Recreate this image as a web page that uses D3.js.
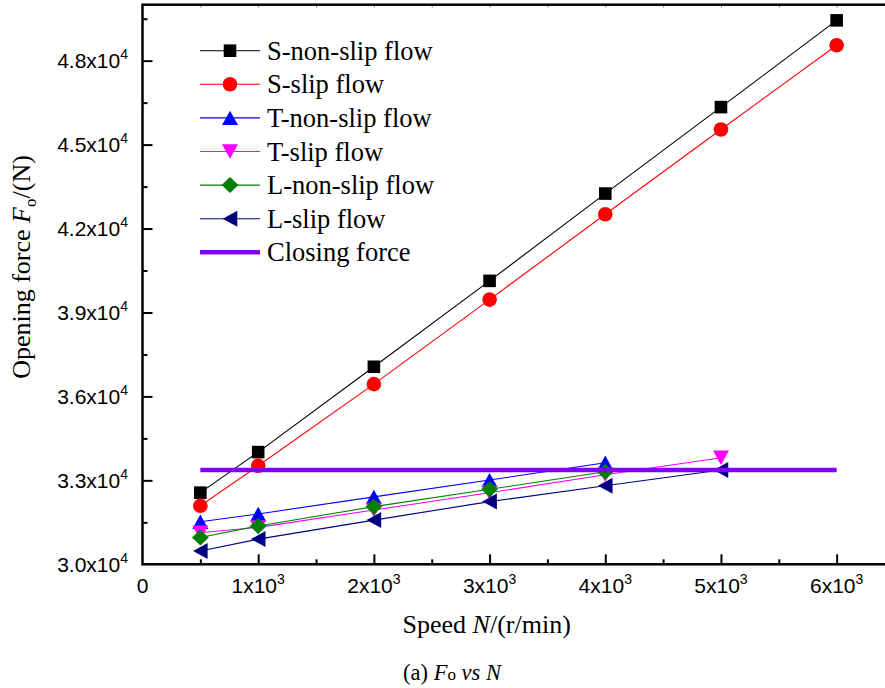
<!DOCTYPE html>
<html>
<head>
<meta charset="utf-8">
<script src="https://cdn.jsdelivr.net/npm/d3@7"></script>
<style>
    body { margin: 0; background: #fff; }
    svg { display: block; }
</style>
</head>
<body>
<svg id="chart"></svg>
<script>
// speeds N (r/min)
const speeds = [500, 1000, 2000, 3000, 4000, 5000, 6000];

// opening force F_o (N)
const sNonSlip = [32560, 34010, 37060, 40130, 43250, 46340, 49440];
const sSlip    = [32090, 33520, 36440, 39460, 42510, 45540, 48550];
const tNonSlip = [31520, 31800, 32410, 33010, 33630];
const tSlip    = [31130, 31320, 31940, 32560, 33200, 33810];
const lNonSlip = [30960, 31370, 32060, 32680, 33310];
const lSlip    = [30475, 30900, 31580, 32240, 32810, 33370];
const closingForce = 33370;
const closingSpan = [500, 6000];

const seriesNames = ['S-non-slip flow', 'S-slip flow', 'T-non-slip flow', 'T-slip flow', 'L-non-slip flow', 'L-slip flow'];
const closingName = 'Closing force';

const xMajor = [0, 1000, 2000, 3000, 4000, 5000, 6000];
const xMinor = [500, 1500, 2500, 3500, 4500, 5500, 6500];
const yMajor = [30000, 33000, 36000, 39000, 42000, 45000, 48000];
const yMinor = [31500, 34500, 37500, 40500, 43500, 46500, 49500];

const styles = [
    { color: '#000000', shape: 'square' },
    { color: '#ff0000', shape: 'circle' },
    { color: '#0000ff', shape: 'up' },
    { color: '#ff00ff', shape: 'down' },
    { color: '#008000', shape: 'diamond' },
    { color: '#000080', shape: 'left' }
];
const closingColor = '#8000ff';

const SERIF = '"Liberation Serif", "Times New Roman", serif';
const SANS = '"Liberation Sans", Arial, sans-serif';

function markerPath(shape) {
    switch (shape) {
        case 'square': return d3.symbol().type(d3.symbolSquare).size(12.6 * 12.6)();
        case 'circle': return d3.symbol().type(d3.symbolCircle).size(Math.PI * 7.3 * 7.3)();
        case 'up': return 'M0,-7.2L8,7.2L-8,7.2Z';
        case 'down': return 'M0,7.2L8,-7.2L-8,-7.2Z';
        case 'diamond': return 'M0,-8L8.4,0L0,8L-8.4,0Z';
        case 'left': return 'M-7.3,0L7.3,-8L7.3,8Z';
    }
}

class ForceChart {

    constructor(config, data) {
        this.config = {
            parent: config.parent,
            width: config.width || 885,
            height: config.height || 688,
            margin: config.margin || {top: 4.7, left: 142.5}
        };
        this.data = data;
        this.init();
    }

    init() {
        let self = this;

        self.svg = d3.select(self.config.parent)
            .attr('width', self.config.width)
            .attr('height', self.config.height);

        self.chart = self.svg.append('g')
            .attr('transform', `translate(${self.config.margin.left}, ${self.config.margin.top})`);

        self.inner_width = 752;
        self.inner_height = 559.6;

        self.xscale = d3.scaleLinear()
            .domain([0, 6500])
            .range([0, self.inner_width]);

        self.yscale = d3.scaleLinear()
            .domain([30000, 50000])
            .range([self.inner_height, 0]);
    }

    update() {
        let self = this;

        self.line = d3.line()
            .x(d => self.xscale(d[0]))
            .y(d => self.yscale(d[1]));

        self.render();
    }

    drawAxes() {
        let self = this;
        const axisStyle = g => {
            g.select('.domain').remove();
            g.selectAll('.tick line').attr('stroke', '#000').attr('stroke-width', 2);
            g.selectAll('.tick text').remove();
        };

        // bottom
        self.chart.append('g')
            .attr('transform', `translate(0, ${self.inner_height})`)
            .call(d3.axisBottom(self.xscale).tickValues(xMajor.slice(1)).tickSizeInner(-10).tickSizeOuter(0))
            .call(axisStyle);
        self.chart.append('g')
            .attr('transform', `translate(0, ${self.inner_height})`)
            .call(d3.axisBottom(self.xscale).tickValues(xMinor).tickSizeInner(-5).tickSizeOuter(0))
            .call(axisStyle);

        // top (short ticks)
        self.chart.append('g')
            .call(d3.axisTop(self.xscale).tickValues(xMajor.slice(1).concat(xMinor)).tickSizeInner(-3).tickSizeOuter(0))
            .call(axisStyle)
            .selectAll('.tick line').attr('stroke', '#888').attr('stroke-width', 1);

        // left
        self.chart.append('g')
            .call(d3.axisLeft(self.yscale).tickValues(yMajor.slice(1)).tickSizeInner(-10).tickSizeOuter(0))
            .call(axisStyle);
        self.chart.append('g')
            .call(d3.axisLeft(self.yscale).tickValues(yMinor).tickSizeInner(-5).tickSizeOuter(0))
            .call(axisStyle);

        // frame
        self.chart.append('rect')
            .attr('x', 0).attr('y', 0)
            .attr('width', self.inner_width)
            .attr('height', self.inner_height)
            .attr('fill', 'none')
            .attr('stroke', '#000')
            .attr('stroke-width', 2.5);

        // x tick labels
        const xl = self.chart.append('g')
            .attr('font-family', SANS)
            .selectAll('text')
            .data(xMajor)
            .join('text')
            .attr('x', d => self.xscale(d))
            .attr('y', self.inner_height + 29)
            .attr('text-anchor', 'middle')
            .attr('font-size', 21);
        xl.each(function(d) {
            const t = d3.select(this);
            if (d === 0) { t.text('0'); return; }
            t.append('tspan').text(`${d / 1000}x10`);
            t.append('tspan').attr('font-size', 14).attr('dy', -9).text('3');
        });

        // y tick labels
        const yl = self.chart.append('g')
            .attr('font-family', SANS)
            .selectAll('text')
            .data(yMajor)
            .join('text')
            .attr('x', -14.5)
            .attr('y', d => self.yscale(d) + 7.5)
            .attr('text-anchor', 'end')
            .attr('font-size', 21);
        yl.each(function(d) {
            const t = d3.select(this);
            t.append('tspan').text(`${(d / 10000).toFixed(1)}x10`);
            t.append('tspan').attr('font-size', 14).attr('dy', -9).text('4');
        });
    }

    render() {
        let self = this;

        self.drawAxes();

        self.data.forEach((s, i) => {
            const pts = s.values.map((v, j) => [speeds[j], v]);
            const st = styles[i];
            self.chart.append('path')
                .attr('d', self.line(pts))
                .attr('stroke', st.color)
                .attr('stroke-width', 1.1)
                .attr('fill', 'none');
            self.chart.append('g')
                .selectAll('path')
                .data(pts)
                .join('path')
                .attr('transform', d => `translate(${self.xscale(d[0])}, ${self.yscale(d[1])})`)
                .attr('d', markerPath(st.shape))
                .attr('fill', st.color);
        });

        // closing force
        self.chart.append('path')
            .attr('d', self.line(closingSpan.map(x => [x, closingForce])))
            .attr('stroke', closingColor)
            .attr('stroke-width', 4.5)
            .attr('fill', 'none');

        // legend
        const legend = self.svg.append('g')
            .attr('font-family', SERIF)
            .attr('font-size', 26.5);
        const rows = self.data.map((s, i) => ({ name: s.name, style: styles[i] }));
        rows.push({ name: closingName, style: null });
        rows.forEach((r, i) => {
            const y = 50.7 + i * 33.6;
            const g = legend.append('g').attr('transform', `translate(0, ${y})`);
            if (r.style) {
                g.append('line').attr('x1', 200).attr('x2', 260)
                    .attr('stroke', r.style.color).attr('stroke-width', 1.1);
                g.append('path').attr('transform', 'translate(230, 0)')
                    .attr('d', markerPath(r.style.shape)).attr('fill', r.style.color);
            } else {
                g.append('line').attr('x1', 200).attr('x2', 260)
                    .attr('stroke', closingColor).attr('stroke-width', 4.5);
            }
            g.append('text').attr('x', 267).attr('y', 9).text(r.name);
        });

        // axis titles
        const xt = self.svg.append('text')
            .attr('x', 486.7).attr('y', 633)
            .attr('text-anchor', 'middle')
            .attr('font-family', SERIF)
            .attr('font-size', 26);
        xt.append('tspan').text('Speed ');
        xt.append('tspan').attr('font-style', 'italic').text('N');
        xt.append('tspan').text('/(r/min)');

        const yt = self.svg.append('text')
            .attr('transform', 'translate(30, 267) rotate(-90)')
            .attr('text-anchor', 'middle')
            .attr('font-family', SERIF)
            .attr('font-size', 26);
        yt.append('tspan').text('Opening force ');
        yt.append('tspan').attr('font-style', 'italic').text('F');
        yt.append('tspan').attr('font-size', 17).attr('dy', 6).text('o');
        yt.append('tspan').attr('dy', -6).text('/(N)');

        const cap = self.svg.append('text')
            .attr('x', 452).attr('y', 680)
            .attr('text-anchor', 'middle')
            .attr('font-family', SERIF)
            .attr('font-size', 22.5);
        cap.append('tspan').text('(a) ');
        cap.append('tspan').attr('font-style', 'italic').text('F');
        cap.append('tspan').attr('font-size', 17).text('o');
        cap.append('tspan').text(' ');
        cap.append('tspan').attr('font-style', 'italic').text('vs');
        cap.append('tspan').text(' ');
        cap.append('tspan').attr('font-style', 'italic').text('N');
    }
}

const seriesValues = [sNonSlip, sSlip, tNonSlip, tSlip, lNonSlip, lSlip];
const data = seriesNames.map((name, i) => ({ name: name, values: seriesValues[i] }));

const chart = new ForceChart({ parent: '#chart', width: 885, height: 688 }, data);
chart.update();
</script>
</body>
</html>
